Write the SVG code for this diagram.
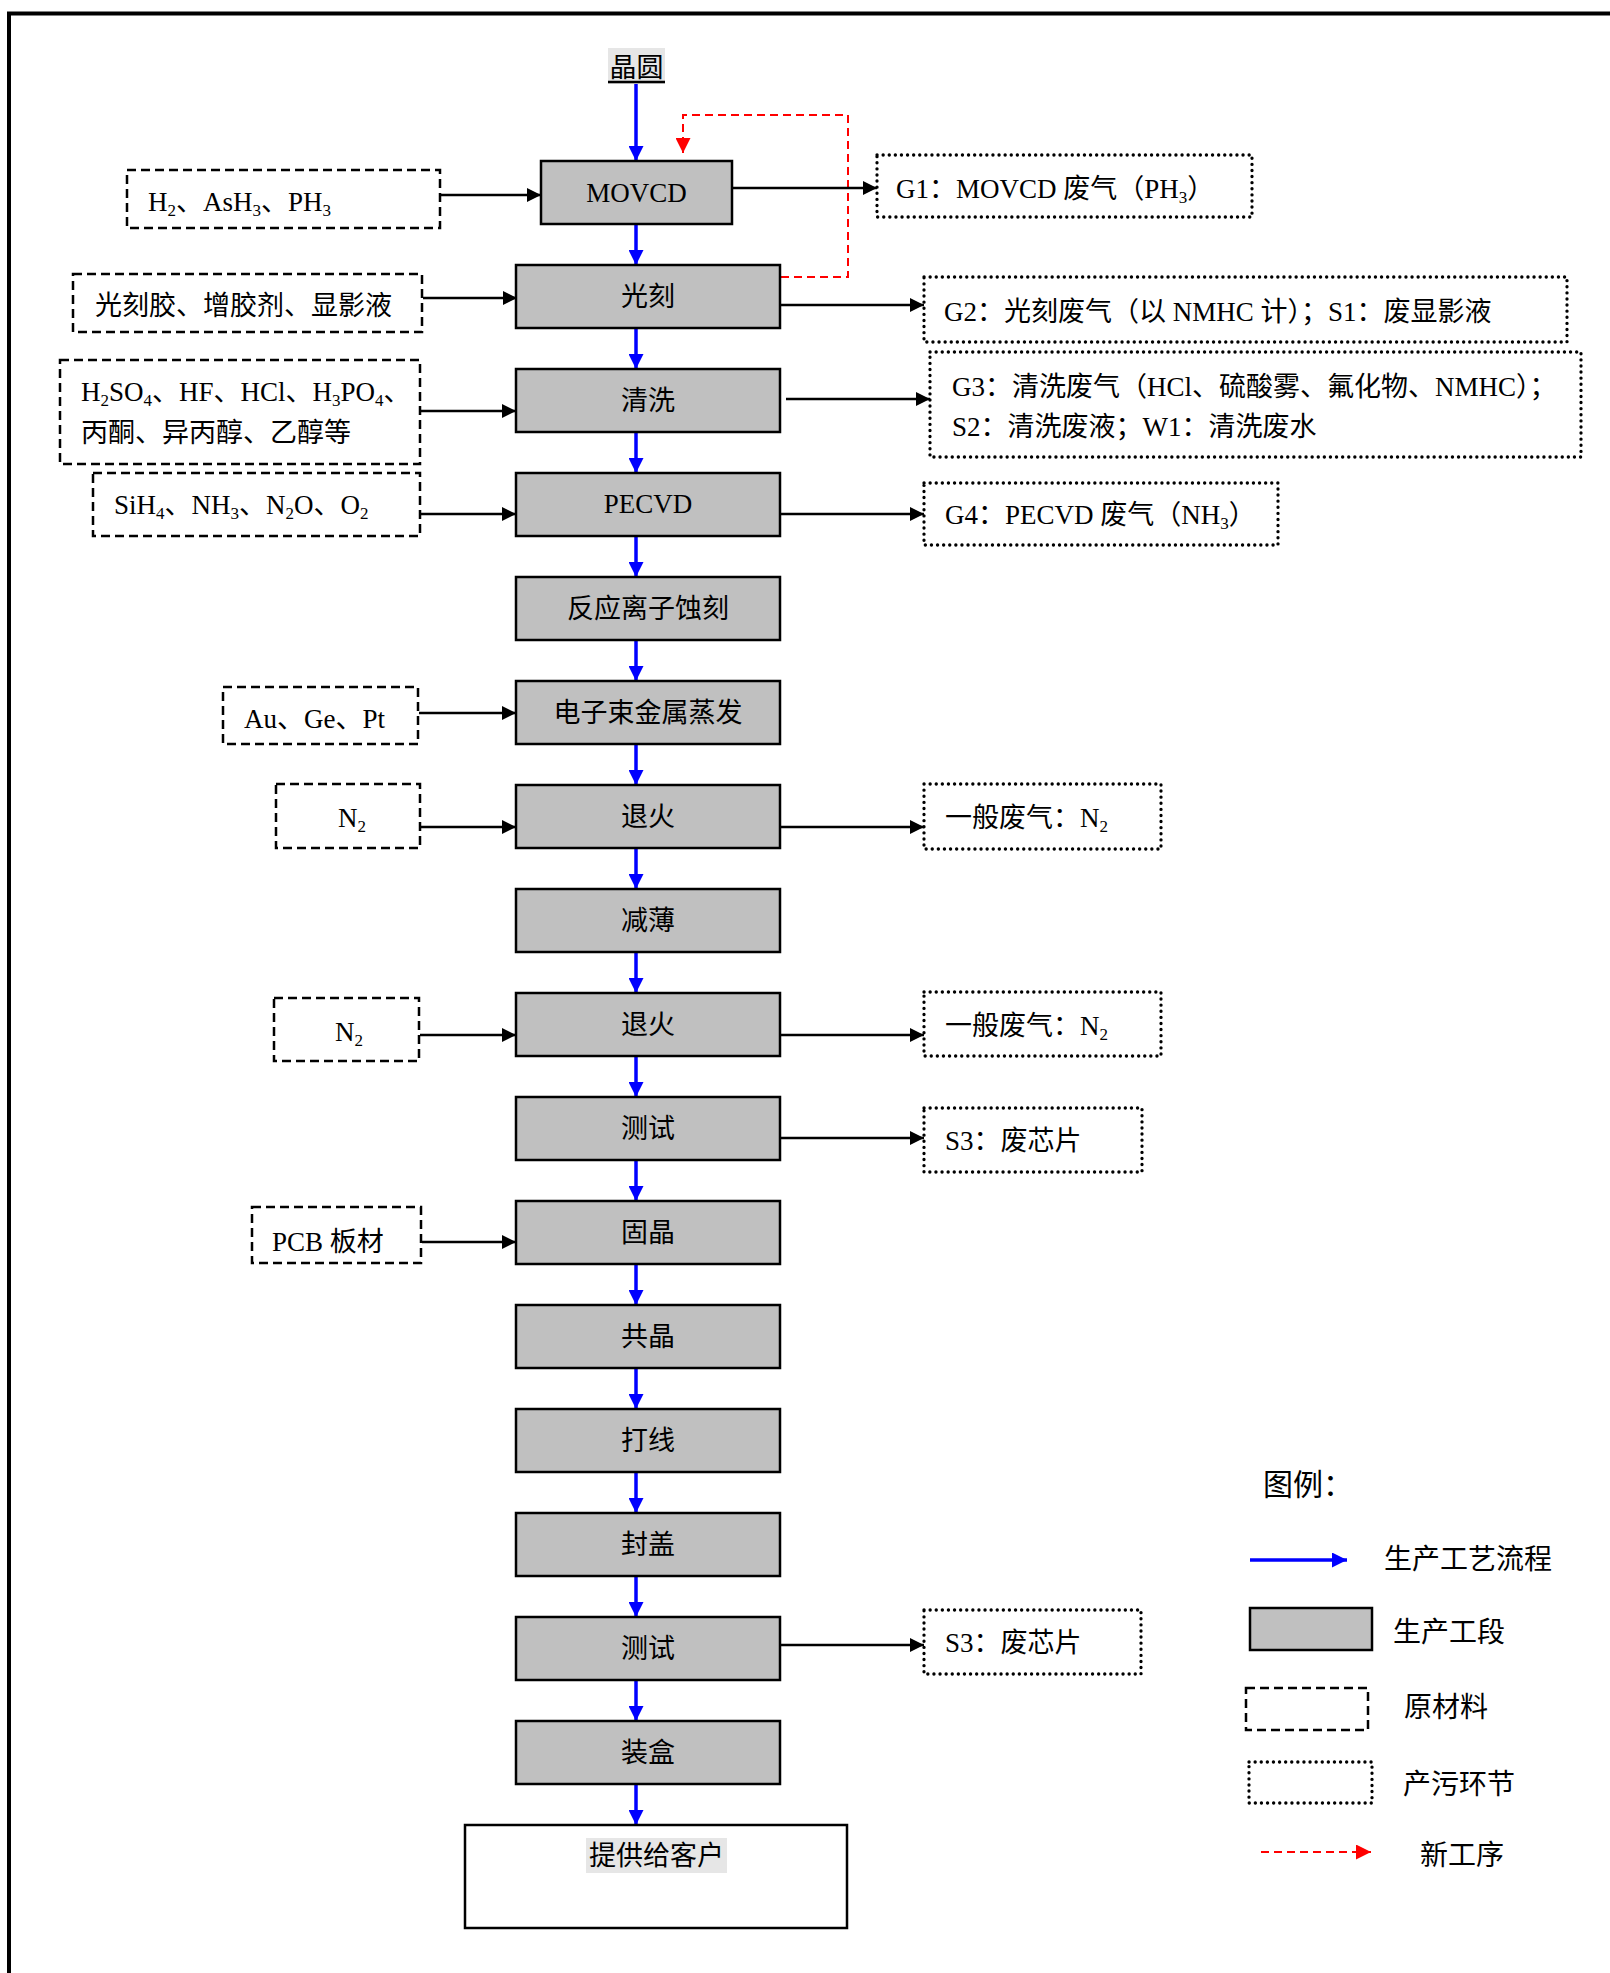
<svg xmlns="http://www.w3.org/2000/svg" width="1610" height="1973" viewBox="0 0 1610 1973">
<defs>
<style>
text{font-family:'Liberation Serif','Noto Sans CJK SC',serif;font-size:27px;fill:#000}
.c{text-anchor:middle}
.s{font-size:17px}
.proc{fill:#c0c0c0;stroke:#000;stroke-width:2.5}
.raw{fill:none;stroke:#000;stroke-width:2.5;stroke-dasharray:9 5}
.pol{fill:none;stroke:#000;stroke-width:3.3;stroke-dasharray:0.1 6;stroke-linecap:round}
.blue{stroke:#0000ff;stroke-width:3.5;fill:none}
.blk{stroke:#000;stroke-width:2.5;fill:none}
.red{stroke:#ff0000;stroke-width:2;fill:none;stroke-dasharray:8 5}
.leg{font-size:28px}
</style>
<marker id="ab" viewBox="0 0 15 15" refX="15" refY="7.5" markerWidth="15" markerHeight="15" markerUnits="userSpaceOnUse" orient="auto"><path d="M0,0 L15,7.5 L0,15 z" fill="#0000ff"/></marker>
<marker id="ak" viewBox="0 0 14 14" refX="14" refY="7" markerWidth="14" markerHeight="14" markerUnits="userSpaceOnUse" orient="auto"><path d="M0,0 L14,7 L0,14 z" fill="#000"/></marker>
<marker id="ar" viewBox="0 0 15 15" refX="15" refY="7.5" markerWidth="15" markerHeight="15" markerUnits="userSpaceOnUse" orient="auto"><path d="M0,0 L15,7.5 L0,15 z" fill="#ff0000"/></marker>
</defs>
<rect width="1610" height="1973" fill="#fff"/>
<path d="M9,1980 V13.5 H1620" fill="none" stroke="#000" stroke-width="4"/>

<!-- connectors -->
<g id="connectors">
<path class="blue" d="M636,83 V161" marker-end="url(#ab)"/>
<path class="blue" d="M636,224 V265" marker-end="url(#ab)"/>
<path class="blue" d="M636,328 V369" marker-end="url(#ab)"/>
<path class="blue" d="M636,432 V473" marker-end="url(#ab)"/>
<path class="blue" d="M636,536 V577" marker-end="url(#ab)"/>
<path class="blue" d="M636,640 V681" marker-end="url(#ab)"/>
<path class="blue" d="M636,744 V785" marker-end="url(#ab)"/>
<path class="blue" d="M636,848 V889" marker-end="url(#ab)"/>
<path class="blue" d="M636,952 V993" marker-end="url(#ab)"/>
<path class="blue" d="M636,1056 V1097" marker-end="url(#ab)"/>
<path class="blue" d="M636,1160 V1201" marker-end="url(#ab)"/>
<path class="blue" d="M636,1264 V1305" marker-end="url(#ab)"/>
<path class="blue" d="M636,1368 V1409" marker-end="url(#ab)"/>
<path class="blue" d="M636,1472 V1513" marker-end="url(#ab)"/>
<path class="blue" d="M636,1576 V1617" marker-end="url(#ab)"/>
<path class="blue" d="M636,1680 V1721" marker-end="url(#ab)"/>
<path class="blue" d="M636,1784 V1825" marker-end="url(#ab)"/>
<path class="red" d="M781,277 H848 V115 H683 V153" marker-end="url(#ar)"/>
<path class="blk" d="M441,195 H541" marker-end="url(#ak)"/>
<path class="blk" d="M423,298 H517" marker-end="url(#ak)"/>
<path class="blk" d="M421,411 H516" marker-end="url(#ak)"/>
<path class="blk" d="M421,514 H516" marker-end="url(#ak)"/>
<path class="blk" d="M419,713 H516" marker-end="url(#ak)"/>
<path class="blk" d="M421,827 H516" marker-end="url(#ak)"/>
<path class="blk" d="M420,1035 H516" marker-end="url(#ak)"/>
<path class="blk" d="M422,1242 H516" marker-end="url(#ak)"/>
<path class="blk" d="M733,188 H877" marker-end="url(#ak)"/>
<path class="blk" d="M781,305 H924" marker-end="url(#ak)"/>
<path class="blk" d="M786,399 H930" marker-end="url(#ak)"/>
<path class="blk" d="M781,514 H924" marker-end="url(#ak)"/>
<path class="blk" d="M781,827 H924" marker-end="url(#ak)"/>
<path class="blk" d="M781,1035 H924" marker-end="url(#ak)"/>
<path class="blk" d="M781,1138 H924" marker-end="url(#ak)"/>
<path class="blk" d="M781,1645 H924" marker-end="url(#ak)"/>
</g>

<!-- start label -->
<g id="wafer">
<rect x="608" y="48" width="57" height="36" fill="#e6e6e6"/>
<text x="636.5" y="77" class="c">晶圆</text>
<line x1="608" y1="82" x2="665" y2="82" stroke="#000" stroke-width="2.5"/>
</g>

<!-- process nodes -->
<g id="p-movcd"><rect class="proc" x="541" y="161" width="191" height="63"/><text x="636.5" y="202" class="c">MOVCD</text></g>
<g id="p-litho"><rect class="proc" x="516" y="265" width="264" height="63"/><text x="648" y="306" class="c">光刻</text></g>
<g id="p-clean"><rect class="proc" x="516" y="369" width="264" height="63"/><text x="648" y="410" class="c">清洗</text></g>
<g id="p-pecvd"><rect class="proc" x="516" y="473" width="264" height="63"/><text x="648" y="513" class="c">PECVD</text></g>
<g id="p-rie"><rect class="proc" x="516" y="577" width="264" height="63"/><text x="648" y="618" class="c">反应离子蚀刻</text></g>
<g id="p-ebeam"><rect class="proc" x="516" y="681" width="264" height="63"/><text x="648" y="722" class="c">电子束金属蒸发</text></g>
<g id="p-anneal1"><rect class="proc" x="516" y="785" width="264" height="63"/><text x="648" y="826" class="c">退火</text></g>
<g id="p-thin"><rect class="proc" x="516" y="889" width="264" height="63"/><text x="648" y="930" class="c">减薄</text></g>
<g id="p-anneal2"><rect class="proc" x="516" y="993" width="264" height="63"/><text x="648" y="1034" class="c">退火</text></g>
<g id="p-test1"><rect class="proc" x="516" y="1097" width="264" height="63"/><text x="648" y="1138" class="c">测试</text></g>
<g id="p-diebond"><rect class="proc" x="516" y="1201" width="264" height="63"/><text x="648" y="1242" class="c">固晶</text></g>
<g id="p-eutectic"><rect class="proc" x="516" y="1305" width="264" height="63"/><text x="648" y="1346" class="c">共晶</text></g>
<g id="p-wire"><rect class="proc" x="516" y="1409" width="264" height="63"/><text x="648" y="1450" class="c">打线</text></g>
<g id="p-cap"><rect class="proc" x="516" y="1513" width="264" height="63"/><text x="648" y="1554" class="c">封盖</text></g>
<g id="p-test2"><rect class="proc" x="516" y="1617" width="264" height="63"/><text x="648" y="1658" class="c">测试</text></g>
<g id="p-box"><rect class="proc" x="516" y="1721" width="264" height="63"/><text x="648" y="1762" class="c">装盒</text></g>
<g id="p-customer"><rect x="465" y="1825" width="382" height="103" fill="#fff" stroke="#000" stroke-width="2.5"/><rect x="586" y="1838" width="141" height="35" fill="#e6e6e6"/><text x="656.5" y="1865" class="c">提供给客户</text></g>

<!-- raw materials -->
<g id="r-movcd"><rect class="raw" x="127" y="170" width="313" height="58"/><text x="148" y="211">H<tspan class="s" dy="5">2</tspan><tspan dy="-5">、AsH</tspan><tspan class="s" dy="5">3</tspan><tspan dy="-5">、PH</tspan><tspan class="s" dy="5">3</tspan></text></g>
<g id="r-litho"><rect class="raw" x="73" y="274" width="349" height="58"/><text x="95" y="315">光刻胶、增胶剂、显影液</text></g>
<g id="r-clean"><rect class="raw" x="60" y="360" width="360" height="104"/>
<text x="81" y="401">H<tspan class="s" dy="5">2</tspan><tspan dy="-5">SO</tspan><tspan class="s" dy="5">4</tspan><tspan dy="-5">、HF、HCl、H</tspan><tspan class="s" dy="5">3</tspan><tspan dy="-5">PO</tspan><tspan class="s" dy="5">4</tspan><tspan dy="-5">、</tspan></text>
<text x="81" y="442">丙酮、异丙醇、乙醇等</text></g>
<g id="r-pecvd"><rect class="raw" x="93" y="473" width="327" height="63"/><text x="114" y="514">SiH<tspan class="s" dy="5">4</tspan><tspan dy="-5">、NH</tspan><tspan class="s" dy="5">3</tspan><tspan dy="-5">、N</tspan><tspan class="s" dy="5">2</tspan><tspan dy="-5">O、O</tspan><tspan class="s" dy="5">2</tspan></text></g>
<g id="r-ebeam"><rect class="raw" x="223" y="687" width="195" height="57"/><text x="244" y="728">Au、Ge、Pt</text></g>
<g id="r-anneal1"><rect class="raw" x="276" y="784" width="144" height="64"/><text x="338" y="827">N<tspan class="s" dy="5">2</tspan></text></g>
<g id="r-anneal2"><rect class="raw" x="274" y="998" width="145" height="63"/><text x="335" y="1041">N<tspan class="s" dy="5">2</tspan></text></g>
<g id="r-diebond"><rect class="raw" x="252" y="1207" width="169" height="56"/><text x="272" y="1251">PCB 板材</text></g>

<!-- pollution outputs -->
<g id="o-g1"><rect class="pol" x="877" y="155" width="375" height="62"/><text x="896" y="198">G1：MOVCD 废气（PH<tspan class="s" dy="5">3</tspan><tspan dy="-5">）</tspan></text></g>
<g id="o-g2"><rect class="pol" x="924" y="277" width="643" height="65"/><text x="944" y="321">G2：光刻废气（以 NMHC 计）；S1：废显影液</text></g>
<g id="o-g3"><rect class="pol" x="930" y="352" width="651" height="105"/><text x="952" y="396">G3：清洗废气（HCl、硫酸雾、氟化物、NMHC）；</text><text x="952" y="436">S2：清洗废液；W1：清洗废水</text></g>
<g id="o-g4"><rect class="pol" x="924" y="483" width="354" height="62"/><text x="945" y="524">G4：PECVD 废气（NH<tspan class="s" dy="5">3</tspan><tspan dy="-5">）</tspan></text></g>
<g id="o-n1"><rect class="pol" x="924" y="784" width="237" height="65"/><text x="945" y="827">一般废气：N<tspan class="s" dy="5">2</tspan></text></g>
<g id="o-n2"><rect class="pol" x="924" y="992" width="237" height="64"/><text x="945" y="1035">一般废气：N<tspan class="s" dy="5">2</tspan></text></g>
<g id="o-s3a"><rect class="pol" x="924" y="1108" width="218" height="64"/><text x="945" y="1150">S3：废芯片</text></g>
<g id="o-s3b"><rect class="pol" x="924" y="1610" width="217" height="64"/><text x="945" y="1652">S3：废芯片</text></g>

<!-- legend -->
<g id="legend">
<text x="1263" y="1495" style="font-size:30px">图例：</text>
<path class="blue" d="M1250,1560 H1347" stroke-width="4" marker-end="url(#ab)"/>
<text x="1384" y="1569" class="leg">生产工艺流程</text>
<rect class="proc" x="1250" y="1608" width="122" height="42"/>
<text x="1393" y="1642" class="leg">生产工段</text>
<rect class="raw" x="1246" y="1688" width="122" height="42"/>
<text x="1404" y="1717" class="leg">原材料</text>
<rect class="pol" x="1249" y="1762" width="123" height="41"/>
<text x="1403" y="1794" class="leg">产污环节</text>
<path class="red" d="M1261,1852 H1371" marker-end="url(#ar)"/>
<text x="1420" y="1865" class="leg">新工序</text>
</g>
</svg>
